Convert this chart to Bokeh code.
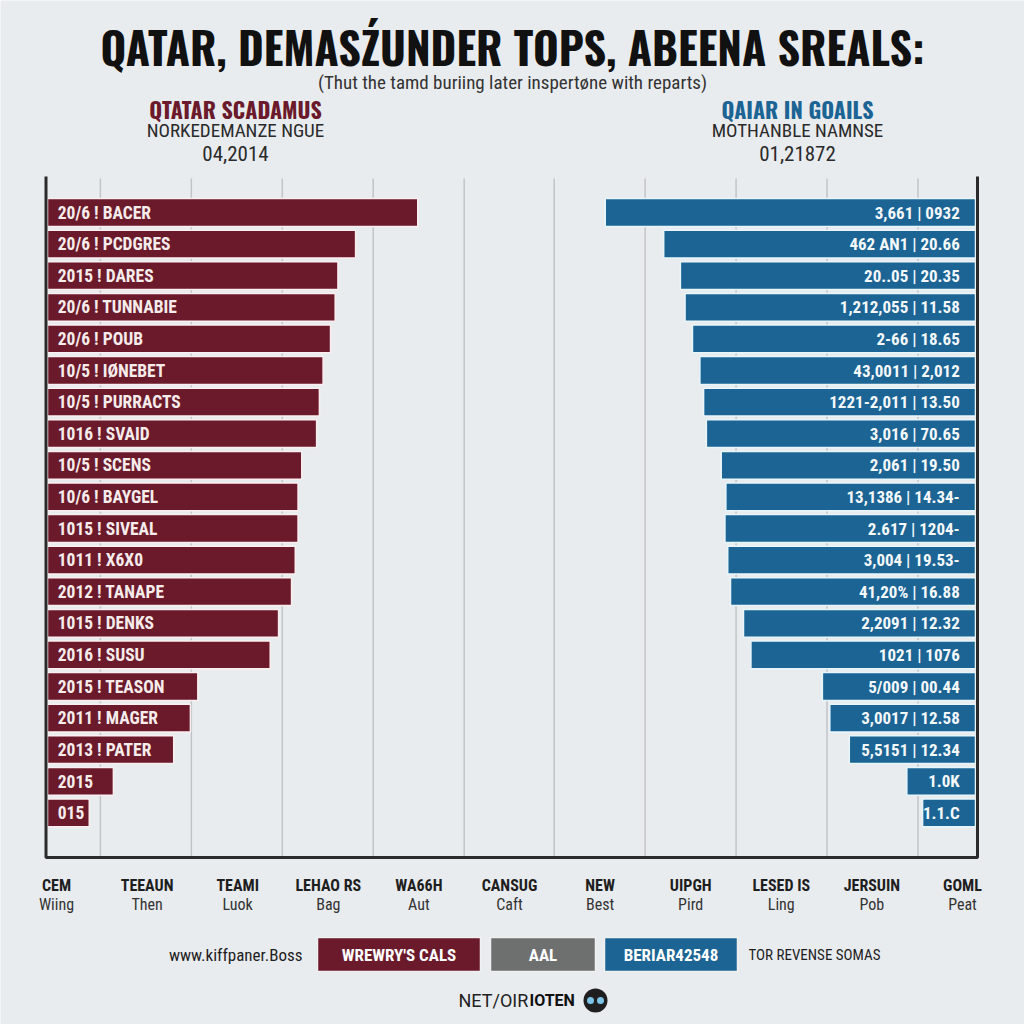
from bokeh.plotting import figure
from bokeh.models import Range1d
from bokeh.core.properties import value
from bokeh.embed import file_html
from bokeh.resources import INLINE

# ---------------- data ----------------
TITLE = "QATAR, DEMASŹUNDER TOPS, ABEENA SREALS:"
SUBTITLE = "(Thut the tamd buriing later inspertøne with reparts)"
LEFT_HEAD = ["QTATAR SCADAMUS", "NORKEDEMANZE NGUE", "04,2014"]
RIGHT_HEAD = ["QAIAR IN GOAILS", "MOTHANBLE NAMNSE", "01,21872"]

left_labels = ["20/6 ! BACER", "20/6 ! PCDGRES", "2015 ! DARES", "20/6 ! TUNNABIE",
               "20/6 ! POUB", "10/5 ! IØNEBET", "10/5 ! PURRACTS", "1016 ! SVAID",
               "10/5 ! SCENS", "10/6 ! BAYGEL", "1015 ! SIVEAL", "1011 ! X6X0",
               "2012 ! TANAPE", "1015 ! DENKS", "2016 ! SUSU", "2015 ! TEASON",
               "2011 ! MAGER", "2013 ! PATER", "2015", "015"]
left_values = [39.9, 33.2, 31.3, 31.0, 30.5, 29.7, 29.3, 29.0, 27.4, 27.0,
               27.0, 26.7, 26.3, 24.9, 24.0, 16.2, 15.4, 13.6, 7.1, 4.5]

right_labels = ["3,661 | 0932", "462 AN1 | 20.66", "20..05 | 20.35", "1,212,055 | 11.58",
                "2-66 | 18.65", "43,0011 | 2,012", "1221-2,011 | 13.50", "3,016 | 70.65",
                "2,061 | 19.50", "13,1386 | 14.34-", "2.617 | 1204-", "3,004 | 19.53-",
                "41,20% | 16.88", "2,2091 | 12.32", "1021 | 1076", "5/009 | 00.44",
                "3,0017 | 12.58", "5,5151 | 12.34", "1.0K", "1.1.C"]
right_values = [39.9, 33.6, 31.8, 31.3, 30.5, 29.7, 29.3, 29.0, 27.4, 26.9,
                27.0, 26.7, 26.4, 25.0, 24.2, 16.5, 15.7, 13.6, 7.4, 5.7]

grid_x = [5.7, 15.5, 25.3, 35.1, 44.9, 54.6, 64.4, 74.2, 84.0, 93.8]

cat_top = ["CEM", "TEEAUN", "TEAMI", "LEHAO RS", "WA66H", "CANSUG", "NEW",
           "UIPGH", "LESED IS", "JERSUIN", "GOML"]
cat_bottom = ["Wiing", "Then", "Luok", "Bag", "Aut", "Caft", "Best",
              "Pird", "Ling", "Pob", "Peat"]

legend_left = "www.kiffpaner.Boss"
legend_boxes = ["WREWRY'S CALS", "AAL", "BERIAR42548"]
legend_right = "TOR REVENSE SOMAS"
footer = ["NET/OIR", "IOTEN"]

# ---------------- style ----------------
BG = "#e9ecef"
MAROON = "#6a1a2a"
BLUE = "#1b6494"
GRAYBOX = "#6e6f6f"
OSW = value("Oswald")
RC = value("Roboto Condensed")
RB = value("Roboto")

W = H = 1024
p = figure(width=W, height=H, x_range=Range1d(0, W), y_range=Range1d(H, 0),
           output_backend="svg", toolbar_location=None, min_border=0,
           x_axis_location=None, y_axis_location=None)
p.grid.visible = False
p.outline_line_color = None
p.background_fill_color = BG
p.border_fill_color = BG

BASE_X = 47      # px of left bar baseline
PX_PER_UNIT = 9.28
ROW0 = 212       # px of first row centre
PITCH = 31.6
p.extra_x_ranges = {"bx": Range1d(-BASE_X / PX_PER_UNIT, (W - BASE_X) / PX_PER_UNIT)}
p.extra_y_ranges = {"by": Range1d((H - ROW0) / PITCH, -ROW0 / PITCH)}

rows = list(range(len(left_values)))

# gridlines
top_r = (178 - ROW0) / PITCH
bot_r = (857 - ROW0) / PITCH
n = len(grid_x)
p.segment(x0=grid_x, x1=grid_x, y0=[top_r] * n, y1=[bot_r] * n,
          x_range_name="bx", y_range_name="by", line_color="#c2c4c7", line_width=1.5)

# bars
p.hbar(y=rows, left=0, right=left_values, height=0.88, x_range_name="bx", y_range_name="by",
       fill_color=MAROON, line_color="#fbeef0", line_width=1.5)
p.hbar(y=rows, left=[100 - v for v in right_values], right=100, height=0.88,
       x_range_name="bx", y_range_name="by",
       fill_color=BLUE, line_color="#e8f6fc", line_width=1.5)

p.text(x=[1.1] * len(rows), y=rows, text=left_labels, x_range_name="bx", y_range_name="by",
       text_font=RC, text_font_style="bold", text_font_size="17.5px",
       text_color="#f7ecec", text_baseline="middle", text_align="left")
p.text(x=[98.3] * len(rows), y=rows, text=right_labels, x_range_name="bx", y_range_name="by",
       text_font=RC, text_font_style="bold", text_font_size="17px",
       text_color="#f4f8fb", text_baseline="middle", text_align="right")

# frame borders
p.line([45.5, 45.5, 977, 977], [176, 857, 857, 176], line_color="#2b2b2b", line_width=3)

# title / headers
p.text(x=[512], y=[46], text=[TITLE], text_font=OSW, text_font_style="bold",
       text_font_size="44px", text_color="#111111", text_align="center", text_baseline="middle")
p.text(x=[512], y=[82], text=[SUBTITLE], text_font=RC, text_font_size="19px",
       text_color="#333333", text_align="center", text_baseline="middle")

for cx, head, col in [(235, LEFT_HEAD, MAROON), (797, RIGHT_HEAD, BLUE)]:
    p.text(x=[cx], y=[108], text=[head[0]], text_font=OSW, text_font_style="bold",
           text_font_size="22px", text_color=col, text_align="center", text_baseline="middle")
    p.text(x=[cx], y=[130], text=[head[1]], text_font=RC,
           text_font_size="19px", text_color="#2a2a2a", text_align="center", text_baseline="middle")
    p.text(x=[cx], y=[153], text=[head[2]], text_font=RC,
           text_font_size="21px", text_color="#2a2a2a", text_align="center", text_baseline="middle")

# bottom category labels
cat_x = [56 + 90.6 * k for k in range(len(cat_top))]
p.text(x=cat_x, y=[885] * len(cat_x), text=cat_top, text_font=RC, text_font_style="bold",
       text_font_size="16px", text_color="#1e1e1e", text_align="center", text_baseline="middle")
p.text(x=cat_x, y=[904] * len(cat_x), text=cat_bottom, text_font=RC,
       text_font_size="16px", text_color="#333333", text_align="center", text_baseline="middle")

# legend row
p.text(x=[302], y=[954], text=[legend_left], text_font=RC, text_font_size="17px",
       text_color="#1e1e1e", text_align="right", text_baseline="middle")
box_l = [317, 490, 604]
box_r = [480, 595, 737]
box_c = [MAROON, GRAYBOX, BLUE]
p.quad(left=box_l, right=box_r, top=[937] * 3, bottom=[971] * 3, fill_color=box_c,
       line_color="#f0f0f0", line_width=1.5)
p.text(x=[(a + b) / 2 for a, b in zip(box_l, box_r)], y=[954] * 3, text=legend_boxes,
       text_font=RC, text_font_style="bold", text_font_size="17px", text_color="#ffffff",
       text_align="center", text_baseline="middle")
p.text(x=[748], y=[954], text=[legend_right], text_font=RC, text_font_size="15px",
       text_color="#1e1e1e", text_align="left", text_baseline="middle")

# footer
p.text(x=[458], y=[1000], text=[footer[0]], text_font=RB, text_font_size="18px",
       text_color="#222222", text_align="left", text_baseline="middle")
p.text(x=[529], y=[1000], text=[footer[1]], text_font=RB, text_font_style="bold",
       text_font_size="16px", text_color="#111111", text_align="left", text_baseline="middle")
p.scatter(x=[595], y=[1000], size=24, marker="circle", fill_color="#1f1f1f",
          line_color=None)
p.scatter(x=[590, 600], y=[1000, 1000], size=7, marker="circle", fill_color="#7cc3e6",
          line_color=None)

open("out.html", "w").write(file_html(p, INLINE))
